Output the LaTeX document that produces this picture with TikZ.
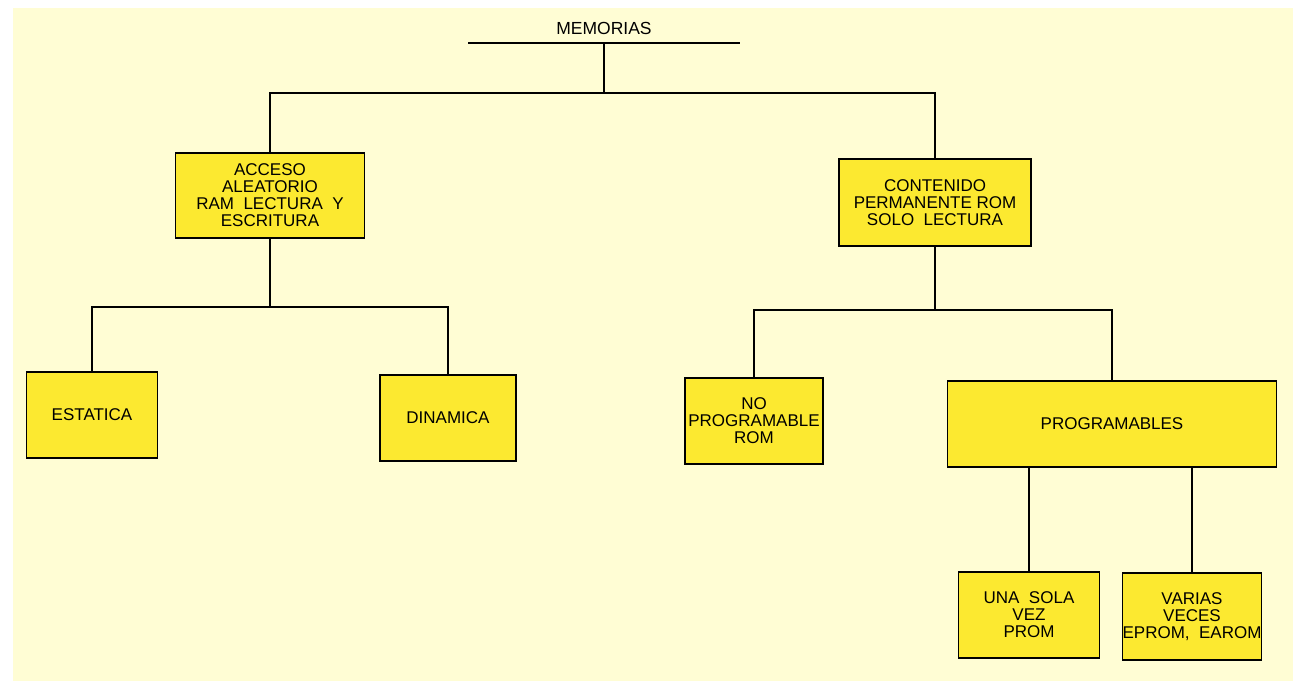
\documentclass[tikz,border=0pt]{standalone}
\usepackage{fontspec}
\setmainfont{Liberation Sans}
\definecolor{papel}{RGB}{255,253,212}
\definecolor{amarillo}{RGB}{252,233,48}
\begin{document}
\begin{tikzpicture}[x=1pt,y=-1pt,line join=miter,line cap=rect,
	font=\fontsize{17}{17}\selectfont,
	caja/.style={draw=black,line width=1.8pt,fill=amarillo,align=center,inner sep=0pt},
	linea/.style={line width=1.5pt}]
			\def \W{1293}
			\def \H{681}
			\useasboundingbox (0,0) rectangle (\W,\H);
			\fill[white] (0,0) rectangle (\W,\H);
			\fill[papel] (13,8) rectangle (\W,\H);
			% titulo
			\node[font=\fontsize{17.5}{18}\selectfont] (mem) at (604,28) {MEMORIAS};
			\coordinate (bar) at (604,43);
			\coordinate (split) at (604,93);
			\draw[linea] ([xshift=-135pt]bar) -- ([xshift=135pt]bar);
			% cajas
			\node[caja,minimum width=189pt,minimum height=85pt] (acc) at (270,195.5) {ACCESO\\ALEATORIO\\RAM\ \ LECTURA\ \ Y\\ESCRITURA};
			\node[caja,minimum width=192pt,minimum height=87pt] (cont) at (935,202.5) {CONTENIDO\\PERMANENTE ROM\\SOLO\ \ LECTURA};
			\node[caja,minimum width=131pt,minimum height=86pt] (est) at (92,415) {ESTATICA};
			\node[caja,minimum width=136pt,minimum height=86pt] (din) at (448,418) {DINAMICA};
			\node[caja,minimum width=138pt,minimum height=86pt] (nop) at (754,421) {NO\\PROGRAMABLE\\ROM};
			\node[caja,minimum width=329pt,minimum height=86pt] (prog) at (1112,424) {PROGRAMABLES};
			\node[caja,minimum width=141pt,minimum height=86pt] (una) at (1029,615) {UNA\ \ SOLA\\VEZ\\PROM};
			\node[caja,minimum width=139pt,minimum height=87pt] (var) at (1192,616.5) {VARIAS\\VECES\\EPROM,\ \ EAROM};
			% conectores
			\coordinate (s1) at (270,307);
			\coordinate (s2) at (935,310);
			\draw[linea] (bar) -- (split);
			\draw[linea] (acc.north) |- (split) -| (cont.north);
			\draw[linea] (acc.south) -- (s1);
			\draw[linea] (est.north) |- (s1) -| (din.north);
			\draw[linea] (cont.south) -- (s2);
			\draw[linea] (nop.north) |- (s2) -| (prog.north);
			\draw[linea] (una.north) -- (una.north |- prog.south);
			\draw[linea] (var.north) -- (var.north |- prog.south);
		\end{tikzpicture}
\end{document}
